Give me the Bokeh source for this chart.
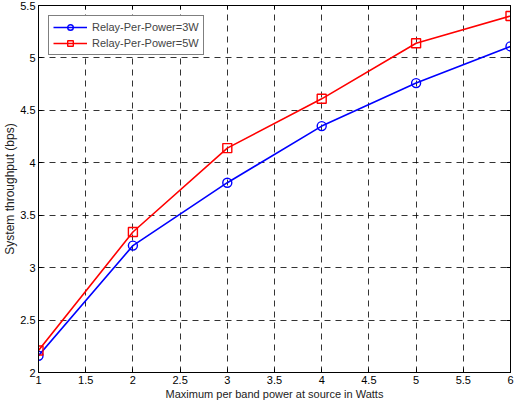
from bokeh.plotting import figure
from bokeh.models import (LinearAxis, Range1d, Legend, LegendItem, FixedTicker,
                          CustomJSTickFormatter)
from bokeh.embed import file_html
from bokeh.resources import INLINE

x_vals = [1, 2, 3, 4, 5, 6]
y_3w = [2.16, 3.21, 3.81, 4.35, 4.76, 5.11]
y_5w = [2.21, 3.34, 4.14, 4.61, 5.14, 5.40]
x_ticks = [1, 1.5, 2, 2.5, 3, 3.5, 4, 4.5, 5, 5.5, 6]
y_ticks = [2, 2.5, 3, 3.5, 4, 4.5, 5, 5.5]
label_3w = "Relay-Per-Power=3W"
label_5w = "Relay-Per-Power=5W"
x_label = "Maximum per band power at source in Watts"
y_label = "System throughput (bps)"

FONT = "Liberation Sans"

p = figure(width=517, height=402, output_backend="svg", toolbar_location=None,
           x_range=Range1d(1, 6), y_range=Range1d(2, 5.5),
           min_border_left=0, min_border_right=7, min_border_top=5, min_border_bottom=0)

p.outline_line_color = "black"
p.outline_line_width = 1

for ax in (p.xaxis[0], p.yaxis[0]):
    ax.major_tick_in = 4
    ax.major_tick_out = 0
    ax.minor_tick_in = 0
    ax.minor_tick_out = 0
    ax.major_label_text_font = FONT
    ax.major_label_text_font_size = "11px"
    ax.major_label_text_color = "black"
    ax.axis_label_text_font = FONT
    ax.axis_label_text_font_style = "normal"
    ax.axis_label_text_color = "#222222"
    ax.axis_line_color = "black"
    ax.major_tick_line_color = "black"

p.xaxis[0].ticker = FixedTicker(ticks=x_ticks)
p.yaxis[0].ticker = FixedTicker(ticks=y_ticks)
p.xaxis[0].axis_label = x_label
p.yaxis[0].axis_label = y_label
p.xaxis[0].axis_label_text_font_size = "11px"
p.yaxis[0].axis_label_text_font_size = "12px"
p.xaxis[0].major_label_standoff = 3
p.yaxis[0].major_label_standoff = 3
p.xaxis[0].axis_label_standoff = 1
p.yaxis[0].axis_label_standoff = 0

for loc, ticks in (("above", x_ticks), ("right", y_ticks)):
    ax = LinearAxis(ticker=FixedTicker(ticks=ticks),
                    formatter=CustomJSTickFormatter(code="return ''"))
    ax.major_tick_in = 4
    ax.major_tick_out = 0
    ax.minor_tick_in = 0
    ax.minor_tick_out = 0
    ax.major_label_standoff = 0
    ax.axis_line_color = "black"
    p.add_layout(ax, loc)

p.xgrid.ticker = FixedTicker(ticks=x_ticks)
p.ygrid.ticker = FixedTicker(ticks=y_ticks)
for g in (p.xgrid[0], p.ygrid[0]):
    g.grid_line_color = "black"
    g.grid_line_dash = "6 5"
    g.grid_line_alpha = 0.8
    g.grid_line_width = 1

l1 = p.line(x_vals, y_3w, line_color="#0000ff", line_width=1.6)
m1 = p.scatter(x_vals, y_3w, marker="circle", size=9, fill_color=None,
               line_color="#0000ff", line_width=1.4)
l2 = p.line(x_vals, y_5w, line_color="#ff0000", line_width=1.6)
m2 = p.scatter(x_vals, y_5w, marker="square", size=9, fill_color=None,
               line_color="#ff0000", line_width=1.4)

legend = Legend(items=[LegendItem(label=label_3w, renderers=[l1, m1]),
                       LegendItem(label=label_5w, renderers=[l2, m2])],
                location="top_left")
legend.border_line_color = "black"
legend.border_line_width = 1
legend.label_text_font = FONT
legend.label_text_font_size = "11px"
legend.label_height = 14
legend.glyph_height = 14
legend.glyph_width = 34
legend.spacing = 2
legend.padding = 4
legend.margin = 10
legend.background_fill_alpha = 1
p.add_layout(legend, "center")

open("out.html", "w").write(file_html(p, INLINE))
